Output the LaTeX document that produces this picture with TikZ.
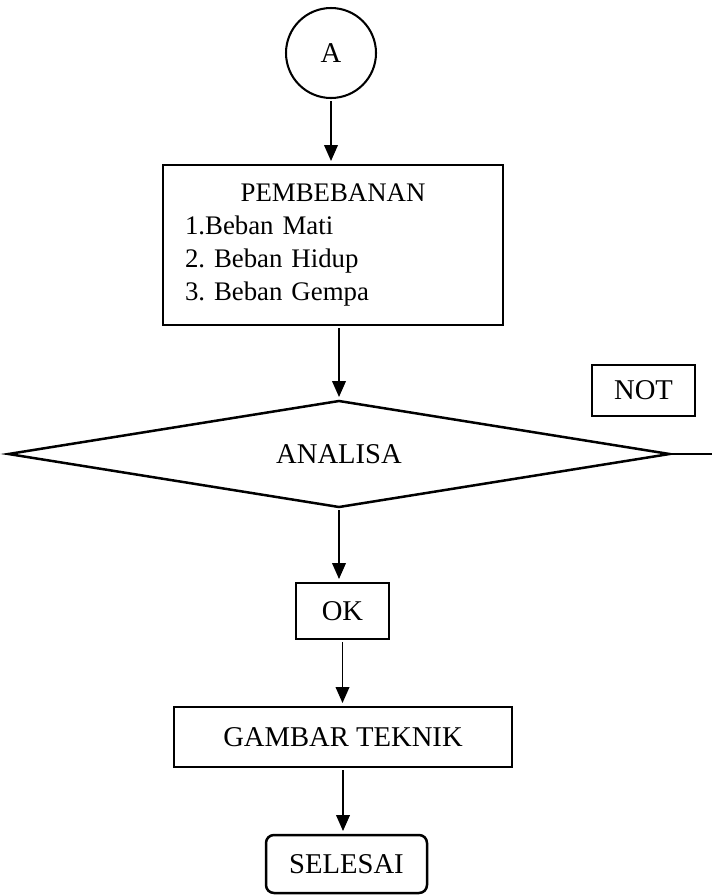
\documentclass[tikz,border=0pt]{standalone}
\usepackage{fontspec}
\setmainfont{Liberation Serif}
\usepackage{tikz}
\usetikzlibrary{positioning, arrows.meta, shapes.geometric}

\newcommand{\px}{0.44pt}
\frenchspacing

\begin{document}
\begin{tikzpicture}[x=\px, y=-\px,
    box/.style={draw, line width=1.1pt, inner sep=0pt, outer sep=0pt, font=\fontsize{12.6}{15}\selectfont},
    flow/.style={-{Triangle[width=6pt, length=7pt]}, line width=0.7pt, shorten >=4*\px, shorten <=3*\px}]
    \useasboundingbox (0,0) rectangle (712,896);

    % Start connector
    \node[box, circle, line width=0.9pt, minimum size=90*\px] (A) at (331,53) {A};

    % Loads
    \node[box, rectangle, font=\fontsize{11.8}{14.5}\selectfont, minimum height=160*\px, text width=296*\px,
        inner xsep=22*\px, align=left] (beban) at (333,245)
        {{\centering PEMBEBANAN\par}1.Beban Mati\\2. Beban Hidup\\3. Beban Gempa};

    % Decision
    \node[box, diamond, aspect=6, minimum width=661*\px, minimum height=106*\px] (analisa) at (339,454) {ANALISA};
    \node[box, rectangle, line width=0.9pt, minimum width=103*\px, minimum height=51*\px] (not) at (643.5,390.5) {NOT};
    \coordinate (keluar) at (712,454);

    % Result
    \node[box, rectangle, minimum width=93*\px, minimum height=56*\px] (ok) at (342.5,611) {OK};
    \node[box, rectangle, minimum width=338*\px, minimum height=60*\px] (gambar) at (343,737) {GAMBAR TEKNIK};
    \node[box, rectangle, rounded corners=8*\px, minimum width=161*\px, minimum height=58*\px] (selesai) at (346.5,864) {SELESAI};

    % Connectors
    \draw[flow] (A.south) -- (A.south |- beban.north);
    \draw[flow] (beban.south -| analisa.north) -- (analisa.north);
    \draw[flow] (analisa.south) -- (analisa.south |- ok.north);
    \draw[flow] (ok.south) -- (ok.south |- gambar.north);
    \draw[flow] (gambar.south) -- (gambar.south |- selesai.north);
    \draw[line width=0.7pt] ([xshift=2*\px]analisa.east) -- (keluar);
\end{tikzpicture}
\end{document}
